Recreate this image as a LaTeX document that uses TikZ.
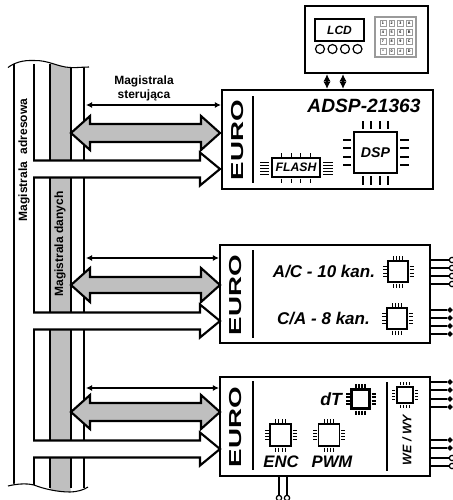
\documentclass[tikz,border=0pt]{standalone}
\usepackage{fontspec}
\setmainfont{Liberation Sans}
\definecolor{busgrey}{HTML}{BFBFBF}
\definecolor{keygrey}{HTML}{9A9A9A}
\newcommand{\bft}[1]{\fontsize{#1}{#1}\selectfont\bfseries}
\newcommand{\bfit}[1]{\fontsize{#1}{#1}\selectfont\bfseries\itshape}
\usetikzlibrary{arrows.meta,shapes.geometric}
\tikzset{
  line/.style={line width=1.6pt,line join=miter},
  busline/.style={line width=1.5pt},
  box/.style={draw,line width=1.6pt,fill=white,inner sep=0pt,minimum width=#1},
  chipbody/.style={draw,fill=white,inner sep=0pt},
  ctrl/.style={line width=1.2pt,{Latex[length=4.5pt,width=4.5pt]}-{Latex[length=4.5pt,width=4.5pt]}},
  link/.style={line width=1.4pt,{Latex[length=5.5pt,width=5.5pt]}-{Latex[length=5.5pt,width=5.5pt]}},
  pinline/.style={line width=1pt},
  openpin/.style={circle,draw,line width=.9pt,fill=white,inner sep=0pt,minimum size=4pt},
  dotpin/.style={diamond,fill=black,inner sep=0pt,minimum size=4.6pt},
  divider/.style={line width=1.6pt},
  keycap/.style={draw=keygrey,line width=.4pt,fill=white,inner sep=0pt,minimum size=4.2pt,font=\fontsize{2.8}{3}\selectfont\bfseries},
}
% name, cx, cy, w, h, line width, pin spacing, pin length, gap
\newcommand{\chipic}[9]{%
  \foreach \k in {-1.5,-.5,.5,1.5}{
    \draw[line width=#6*.75] (#2+\k*#7,#3-#5/2-#9) -- ++(0,-#8);
    \draw[line width=#6*.75] (#2+\k*#7,#3+#5/2+#9) -- ++(0,#8);
    \draw[line width=#6*.75] (#2-#4/2-#9,#3+\k*#7) -- ++(-#8,0);
    \draw[line width=#6*.75] (#2+#4/2+#9,#3+\k*#7) -- ++(#8,0);
  }
  \node[chipbody,line width=#6,minimum width=#4*.75pt,minimum height=#5*.75pt] (#1) at (#2,#3) {};
}
\newcommand{\grey}[4]{% y centre, shaft half, head half, left tip x
  \draw[line,fill=busgrey] (#4,#1) -- (90,#1-#3) -- (90,#1-#2) -- (201,#1-#2) -- (201,#1-#3) -- (220,#1)
     -- (201,#1+#3) -- (201,#1+#2) -- (90,#1+#2) -- (90,#1+#3) -- cycle;
}
\newcommand{\addr}[1]{% y centre
  \fill[white] (30,#1-8.5) -- (200,#1-8.5) -- (200,#1-16.5) -- (220,#1) -- (200,#1+16.5) -- (200,#1+8.5) -- (30,#1+8.5) -- cycle;
  \draw[line] (33.2,#1-8.5) -- (200,#1-8.5) -- (200,#1-16.5) -- (220,#1) -- (200,#1+16.5) -- (200,#1+8.5) -- (33.2,#1+8.5);
}
\begin{document}
\begin{tikzpicture}[x=0.75pt,y=-0.75pt]
\useasboundingbox (0,0) rectangle (453,500);
\fill[white] (0,0) rectangle (453,500);

% bus strip
\fill[busgrey] (50,62) .. controls (58,64) and (64,67) .. (70.5,67) -- (70.5,492) .. controls (64,492) and (58,491) .. (50,490) -- cycle;
\foreach \bx in {13.5,34,50,70.5,83.5}{
  \draw[busline] (\bx,64) -- (\bx,488);
}
\fill[white] (4,40) -- (4,67.5) .. controls (12,63) and (22,60) .. (34,60.5) .. controls (48,60) and (58,67) .. (70,67.5) .. controls (76,68) and (82,67) .. (90,67) -- (90,40) -- cycle;
\fill[white] (4,485) .. controls (16,483) and (26,483) .. (34,485) .. controls (44,489) and (58,492) .. (70,492) .. controls (76,492) and (84,490) .. (90,486) -- (90,500) -- (4,500) -- cycle;
\draw[line width=.8pt] (8,67.5) .. controls (14,63) and (22,60) .. (34,60.5) .. controls (48,60) and (58,67) .. (70,67.5) .. controls (76,68) and (82,67) .. (89,67);
\draw[line width=.8pt] (8,486) .. controls (16,484) and (26,483) .. (34,485) .. controls (44,489) and (58,492) .. (70,492) .. controls (76,492) and (84,490) .. (88,487);

% boxes
\node[box=211*.75pt,minimum height=99*.75pt] (b1) at (327.5,139.5) {};
\node[box=210*.75pt,minimum height=98*.75pt] (b2) at (325,294) {};
\node[box=210*.75pt,minimum height=99*.75pt] (b3) at (325,426.5) {};
\node[box=123*.75pt,minimum height=67*.75pt] (lcd) at (366.5,39.5) {};

% named anchor points of the bus
\coordinate (c1) at (86,105);
\coordinate (c2) at (86,258);
\coordinate (c3) at (86,388);

% bus arrows
\grey{133}{9}{17}{71}
\grey{285}{8}{17}{71}
\grey{412}{9}{17}{71}
\addr{169}
\addr{321}
\addr{449}
\draw[ctrl] (c1) -- (c1 -| b1.west);
\draw[ctrl] (c2) -- (c2 -| b2.west);
\draw[ctrl] (c3) -- (c3 -| b3.west);

% LCD to DSP links
\draw[link] (lcd.south -| 327,0) -- (b1.north -| 327,0);
\draw[link] (lcd.south -| 343,0) -- (b1.north -| 343,0);

% LCD panel
\node[draw,line width=1.2pt,minimum width=49*.75pt,minimum height=22*.75pt,inner sep=0pt,font=\bfit{9}] (lcdtxt) at (339.5,30) {LCD};
\foreach \n/\cx in {a/320,b/332.5,c/345,d/357.5}{
  \node[circle,draw,line width=.9pt,minimum size=9*.75pt,inner sep=0pt] (but\n) at (\cx,49) {};
}
\node[draw=keygrey,line width=.8pt,minimum width=41*.75pt,minimum height=40*.75pt,inner sep=0pt] (pad) at (395.5,37) {};
\foreach \r/\ky/\la/\lb/\lc/\ld in {1/23/1/2/3/A,2/32/4/5/6/B,3/41.5/7/8/9/C,4/51/*/0/\#/D}{
  \node[keycap] (k\r a) at (383,\ky) {\la};
  \node[keycap] (k\r b) at (391.7,\ky) {\lb};
  \node[keycap] (k\r c) at (400.5,\ky) {\lc};
  \node[keycap] (k\r d) at (409.3,\ky) {\ld};
}

% dividers
\draw[divider] (253,96) -- (253,183);
\draw[divider] (253,250) -- (253,338);
\draw[divider] (253,381) -- (253,470);
\draw[divider] (387,382) -- (387,471);

% EURO labels
\node[rotate=90,inner sep=0pt,font=\bft{13}] (e1) at (238,140) {\scalebox{1.6}[1]{EURO}};
\node[rotate=90,inner sep=0pt,font=\bft{13}] (e2) at (236,295) {\scalebox{1.6}[1]{EURO}};
\node[rotate=90,inner sep=0pt,font=\bft{13}] (e3) at (236,427) {\scalebox{1.6}[1]{EURO}};

% chips
\chipic{dsp}{375.5}{152.5}{43}{41}{1.7pt}{8.4}{8.5}{3}
\draw[white,line width=0pt] (375.5,152.5) -- (375.5,152.5);
\foreach \k in {-1.5,-.5,.5,1.5}{
  \draw[line width=1.4pt] (375.5+\k*8.4,121) -- (375.5+\k*8.4,129);
  \draw[line width=1.4pt] (375.5+\k*8.4,176) -- (375.5+\k*8.4,184);
  \draw[line width=1.4pt] (343,152.5+\k*8.4) -- (351,152.5+\k*8.4);
  \draw[line width=1.4pt] (400,152.5+\k*8.4) -- (408,152.5+\k*8.4);
}
\node[font=\bfit{10.6}] (dsptxt) at (dsp) {DSP};
\node[chipbody,line width=1pt,minimum width=48*.75pt,minimum height=19*.75pt] (flash) at (296,167.5) {};
\foreach \k in {-1.5,-.5,.5,1.5}{
  \draw[line width=.9pt] (296+\k*9.6,157) -- ++(0,-4);
  \draw[line width=.9pt] (296+\k*9.6,178.5) -- ++(0,4);
}
\foreach \k in {-2,-1,0,1,2}{
  \draw[line width=.7pt] (260,168+\k*3) -- (269,168+\k*3);
  \draw[line width=.7pt] (323,168+\k*3) -- (333,168+\k*3);
}
\node[font=\bfit{9.2}] (flashtxt) at (flash) {FLASH};

\node[inner sep=0pt,font=\bfit{14.4}] (t1) at (364,106) {ADSP-21363};
\node[inner sep=0pt,font=\bfit{12.75}] (t2) at (324,272) {A/C - 10 kan.};
\node[inner sep=0pt,font=\bfit{12.75}] (t3) at (323.5,319) {C/A - 8 kan.};
\chipic{ac}{398}{271.5}{20}{21}{1pt}{3.3}{4}{1.5}
\chipic{ca}{397}{318.5}{20}{21}{1pt}{3.3}{4}{1.5}
\chipic{dt}{360.5}{399}{18}{19}{2pt}{3.3}{4}{2}
\node[inner sep=0pt,font=\bfit{13.2}] (dttxt) at (331,399) {dT};
\chipic{we}{405}{395}{16}{16}{1pt}{3}{3.5}{1.8}
\node[rotate=90,inner sep=0pt,font=\bfit{9.3}] (wetxt) at (407,440) {WE / WY};
\chipic{enc}{280.5}{435}{21}{22}{1pt}{3.3}{4}{1.5}
\chipic{pwm}{329}{435}{21}{22}{1pt}{3.3}{4}{1.5}
\node[inner sep=0pt,font=\bfit{12.5}] (enctxt) at (281,462) {ENC};
\node[inner sep=0pt,font=\bfit{12.5}] (pwmtxt) at (332,462) {PWM};

% I/O pins
\foreach \n/\py in {a/260,b/268,c/276,d/284}{
  \node[openpin] (pa\n) at (452,\py) {};
  \draw[pinline] (b2.east |- pa\n) -- (pa\n);
}
\foreach \n/\py in {a/310,b/318,c/326,d/334}{
  \node[dotpin] (pb\n) at (450,\py) {};
  \draw[pinline] (b2.east |- pb\n) -- (pb\n);
}
\foreach \n/\py in {a/382,b/390,c/399,d/407,e/440,f/448}{
  \node[dotpin] (pc\n) at (450,\py) {};
  \draw[pinline] (b3.east |- pc\n) -- (pc\n);
}
\foreach \n/\py in {g/458,h/466}{
  \node[openpin] (pc\n) at (452,\py) {};
  \draw[pinline] (b3.east |- pc\n) -- (pc\n);
}
\foreach \n/\px in {a/279,b/287}{
  \node[openpin] (pd\n) at (\px,498) {};
  \draw[pinline] (b3.south -| pd\n) -- (pd\n);
}

% labels
\node[align=center,inner sep=0pt,font=\bft{9}] (lab) at (144,88) {Magistrala\\[1.5pt]sterująca};
\node[rotate=90,inner sep=0pt,font=\bft{9}] (adr) at (24,160) {Magistrala\,\, adresowa};
\node[rotate=90,inner sep=0pt,font=\bft{9}] (dan) at (60,244) {Magistrala danych};
\end{tikzpicture}
\end{document}
